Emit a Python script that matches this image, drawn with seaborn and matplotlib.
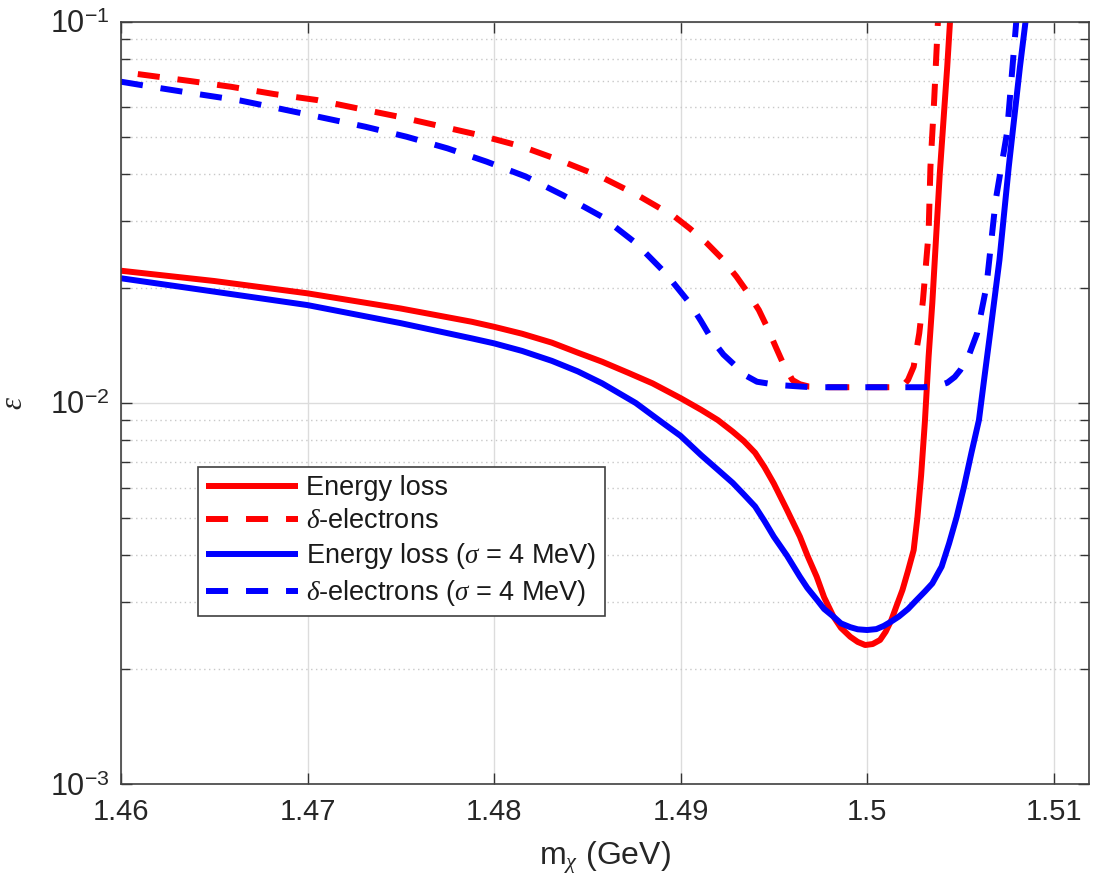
import numpy as np
import pandas as pd
import matplotlib
matplotlib.use("Agg")
import matplotlib.pyplot as plt
import seaborn as sns

# Energy loss
m_eloss = [1.4600, 1.4650, 1.4700, 1.4750, 1.4788, 1.4800, 1.4815, 1.4831, 1.4845, 1.4858,
           1.4872, 1.4885, 1.4900,
           1.4911, 1.4920, 1.4928, 1.4934, 1.4940, 1.4945, 1.4950, 1.4957, 1.4964, 1.4968,
           1.4973, 1.4977, 1.4982, 1.4986, 1.4991, 1.4995, 1.4999, 1.5003, 1.5007, 1.5010,
           1.5013, 1.5016, 1.5019, 1.5022, 1.5025, 1.5027, 1.5029, 1.5031, 1.5033, 1.5035,
           1.5039, 1.5043, 1.5045]
eps_eloss = [0.02224, 0.0209, 0.0194, 0.0177, 0.01634, 0.01585, 0.0152, 0.0144, 0.01355, 0.01283,
             0.0120, 0.01126, 0.0103,
             0.0096, 0.00902, 0.00841, 0.00794, 0.0074, 0.00679, 0.00615, 0.00525, 0.00446, 0.00398,
             0.0035, 0.00309, 0.00275, 0.00257, 0.002435, 0.00236, 0.002316, 0.00233, 0.002388, 0.00251,
             0.00269, 0.00295, 0.00323, 0.00363, 0.00411, 0.0050, 0.00646, 0.0089, 0.0132, 0.0183,
             0.040, 0.0763, 0.11]

# delta-electrons
m_delta = [1.4609, 1.4637, 1.4659, 1.4682, 1.4705, 1.4727, 1.4749, 1.4771, 1.4792, 1.4815,
           1.4835, 1.4857, 1.4877, 1.4897, 1.4905, 1.4914, 1.4922, 1.4930, 1.4936, 1.4942,
           1.4947, 1.4951, 1.4955, 1.4960, 1.4964, 1.4969, 1.4980, 1.5000, 1.5018, 1.5020,
           1.5022, 1.5025, 1.5028, 1.5030, 1.5033, 1.5034, 1.5036, 1.5038, 1.5039]
eps_delta = [0.0730, 0.0700, 0.0676, 0.0647, 0.0624, 0.0593, 0.0564, 0.0533, 0.0505, 0.0471,
             0.0434, 0.0393, 0.0351, 0.0308, 0.0287, 0.0263, 0.0240, 0.02146, 0.0195, 0.01754,
             0.0156, 0.01405, 0.0127, 0.01149, 0.0112, 0.01104, 0.0110, 0.0110, 0.0110, 0.0112,
             0.0115, 0.01245, 0.01524, 0.01863, 0.0279, 0.0417, 0.0624, 0.1, 0.11]

# Energy loss, sigma = 4 MeV
m_eloss_s = [1.4600, 1.4650, 1.4700, 1.4750, 1.4788, 1.4800, 1.4815, 1.4831, 1.4845, 1.4858,
             1.4876, 1.4890,
             1.4900, 1.4911, 1.4920, 1.4928, 1.4934, 1.4940, 1.4945, 1.4950, 1.4957, 1.4964,
             1.4968, 1.4973, 1.4977, 1.4982, 1.4986, 1.4991, 1.4995, 1.5000, 1.5005, 1.5009,
             1.5013, 1.5017, 1.5022, 1.5026, 1.5031, 1.5035, 1.5040, 1.5044, 1.5048, 1.5052,
             1.5056, 1.5060, 1.5063, 1.5066, 1.5071, 1.5076, 1.5082, 1.5086]
eps_eloss_s = [0.02125, 0.0196, 0.01807, 0.0162, 0.01478, 0.01434, 0.0137, 0.0129, 0.0121, 0.01126,
               0.0100, 0.0089,
               0.0082, 0.0073, 0.00668, 0.00617, 0.00575, 0.00535, 0.0049, 0.00446, 0.00398, 0.0035,
               0.00327, 0.00305, 0.00288, 0.00275, 0.00264, 0.00258, 0.002547, 0.002536, 0.00255, 0.0026,
               0.00267, 0.00275, 0.00288, 0.00302, 0.0032, 0.00336, 0.00372, 0.00428, 0.00501, 0.00603,
               0.00741, 0.00902, 0.01175, 0.01524, 0.02373, 0.0417, 0.0763, 0.11]

# delta-electrons, sigma = 4 MeV
m_delta_s = [1.4600, 1.4618, 1.4641, 1.4664, 1.4686, 1.4708, 1.4731, 1.4753, 1.4775, 1.4796,
             1.4817, 1.4837, 1.4858, 1.4876, 1.4892, 1.4905, 1.4911, 1.4917, 1.4923, 1.4930,
             1.4935, 1.4941, 1.4952, 1.4970, 1.5000, 1.5030, 1.5038, 1.5043, 1.5047, 1.5050,
             1.5055, 1.5059, 1.5064, 1.5069, 1.5075, 1.5078, 1.5080, 1.5081]
eps_delta_s = [0.0697, 0.0674, 0.0647, 0.0622, 0.0591, 0.0561, 0.0531, 0.0500, 0.0466, 0.0430,
               0.0393, 0.0351, 0.0308, 0.0263, 0.0219, 0.01827, 0.0164, 0.01463, 0.0134, 0.01245,
               0.0118, 0.01137, 0.01115, 0.0110, 0.0110, 0.0110, 0.0111, 0.0113, 0.0117, 0.0122,
               0.0135, 0.01524, 0.0202, 0.0341, 0.0510, 0.0763, 0.1, 0.11]

labels = ["Energy loss", r"$\delta$-electrons",
          r"Energy loss ($\sigma$ = 4 MeV)", r"$\delta$-electrons ($\sigma$ = 4 MeV)"]
x_ticks = [1.46, 1.47, 1.48, 1.49, 1.50, 1.51]
x_ticklabels = ["1.46", "1.47", "1.48", "1.49", "1.5", "1.51"]
y_ticks = [1e-3, 1e-2, 1e-1]
y_ticklabels = [r"$10^{-3}$", r"$10^{-2}$", r"$10^{-1}$"]

sns.set_theme(style="white")
plt.rcParams["font.family"] = ["Liberation Sans", "DejaVu Sans"]
plt.rcParams["mathtext.fontset"] = "custom"
plt.rcParams["mathtext.rm"] = "Liberation Sans"
plt.rcParams["mathtext.it"] = "Liberation Serif:italic"

fig = plt.figure(figsize=(10.95, 8.9), dpi=100)
ax = fig.add_axes([0.1105, 0.1191, 0.884, 0.8562])

lw = 4.3
dash = (0, (3.7, 3.0))
curves = [
    (m_eloss, eps_eloss, "#ff0000", "-"),
    (m_delta, eps_delta, "#ff0000", dash),
    (m_eloss_s, eps_eloss_s, "#0000ff", "-"),
    (m_delta_s, eps_delta_s, "#0000ff", dash),
]
for (mx, ey, col, ls), lab in zip(curves, labels):
    df = pd.DataFrame({"m": mx, "eps": ey})
    sns.lineplot(data=df, x="m", y="eps", ax=ax, color=col, linestyle=ls,
                 linewidth=lw, label=lab, sort=False, estimator=None,
                 solid_capstyle="butt", dash_capstyle="butt", solid_joinstyle="round")

ax.set_yscale("log")
ax.set_xlim(1.46, 1.5119)
ax.set_ylim(1e-3, 1e-1)
ax.set_xticks(x_ticks)
ax.set_xticklabels(x_ticklabels)
ax.set_yticks(y_ticks)
ax.set_yticklabels(y_ticklabels)

ax.grid(True, which="major", color="#dcdcdc", linestyle="-", linewidth=1.0)
ax.grid(True, which="minor", axis="y", color="#c8c8c8", linestyle=(0, (1, 2.5)), linewidth=1.0)
ax.set_axisbelow(True)

for s in ax.spines.values():
    s.set_visible(True)
    s.set_color("#404040")
    s.set_linewidth(1.2)

ax.tick_params(which="both", direction="in", top=True, right=True, left=True, bottom=True,
               color="#333333", width=1.0)
ax.tick_params(which="major", length=8, labelcolor="#262626", pad=10)
ax.tick_params(axis="x", which="major", labelsize=21)
ax.tick_params(axis="y", which="major", labelsize=22, pad=8)
ax.tick_params(which="minor", length=6.5)
ax.tick_params(axis="x", which="minor", length=0)

ax.set_xlabel(r"m$_{\chi}$ (GeV)", fontsize=23, color="#262626", labelpad=10)
ax.set_ylabel(r"$\epsilon$", fontsize=22, color="#262626")
ax.yaxis.set_label_coords(-0.095, 0.5)

leg = ax.legend(loc="upper left", bbox_to_anchor=(0.0795, 0.416), borderaxespad=0,
                fontsize=19.5, frameon=True, fancybox=False, framealpha=1,
                edgecolor="#404040", handlelength=3.4, handletextpad=0.3,
                labelspacing=0.26, borderpad=0.3)
leg.get_frame().set_linewidth(1.2)
for t in leg.get_texts():
    t.set_color("#1a1a1a")

fig.savefig("out.png", dpi=100, facecolor="white")
